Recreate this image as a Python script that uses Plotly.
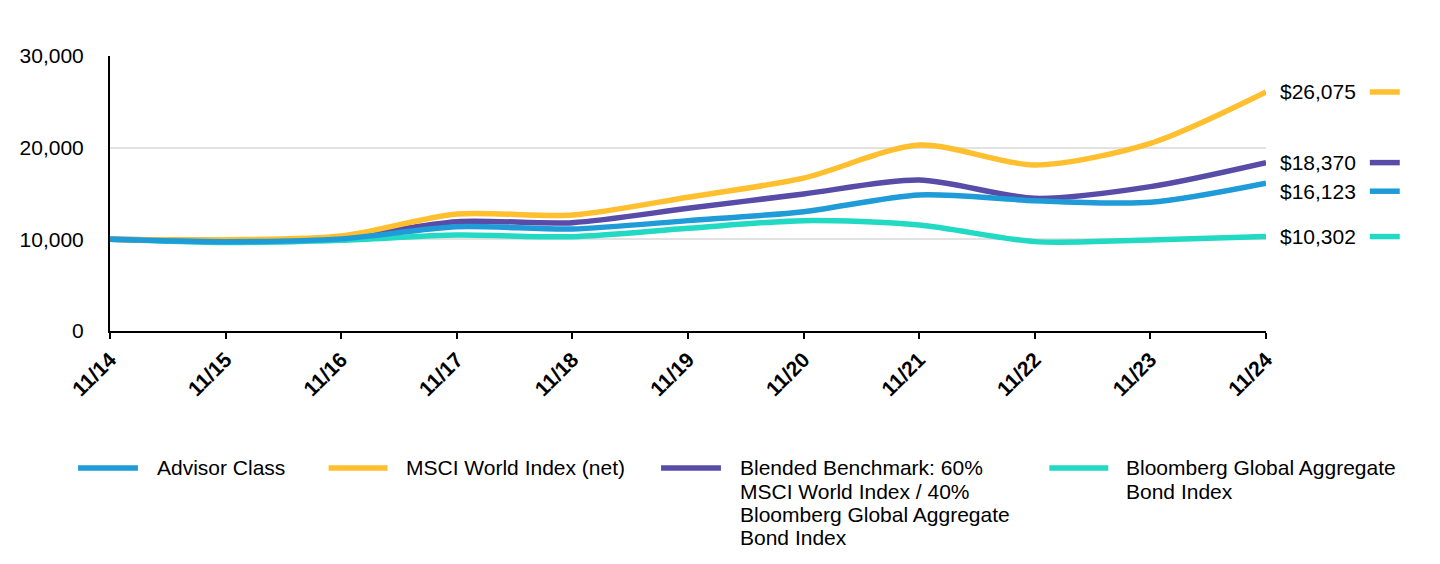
import plotly.graph_objects as go

years = ["11/14", "11/15", "11/16", "11/17", "11/18", "11/19", "11/20", "11/21", "11/22", "11/23", "11/24"]
advisor = [10000, 9750, 10050, 11380, 11130, 12040, 13020, 14840, 14220, 14040, 16123]
msci = [10000, 9950, 10360, 12760, 12650, 14600, 16680, 20290, 18110, 20470, 26075]
blended = [10000, 9880, 10200, 11930, 11820, 13380, 14950, 16470, 14470, 15750, 18370]
bloomberg = [10000, 9650, 9900, 10470, 10290, 11200, 12040, 11560, 9750, 9930, 10302]

names = [["Advisor Class"], ["MSCI World Index (net)"],
         ["Blended Benchmark: 60%", "MSCI World Index / 40%", "Bloomberg Global Aggregate", "Bond Index"],
         ["Bloomberg Global Aggregate", "Bond Index"]]
colors = ["#1F9BD7", "#FFBF2E", "#594BA8", "#22D9C3"]
series = [advisor, msci, blended, bloomberg]
end_labels = ["$16,123", "$26,075", "$18,370", "$10,302"]
label_nudge = [-8, 0, 0, 0]  # pixel shift to avoid overlapping end labels

FONT = "Liberation Sans, Arial, sans-serif"
FS = 21
x = list(range(len(years)))

fig = go.Figure()
for idx in [3, 2, 1, 0]:
    fig.add_trace(go.Scatter(x=x, y=series[idx], mode="lines", name=" ".join(names[idx]),
                             line=dict(color=colors[idx], width=5.5, shape="spline", smoothing=0.8),
                             showlegend=False, hoverinfo="skip"))

OFF = 8  # page body margin
W, H = 1440 - 2 * OFF, 564 - 2 * OFF
PL, PR, PT, PB = 108, 1266, 56, 331  # plot area in page pixels
L = PL - OFF
T = PT - OFF
R = W - (PR - OFF)
B = H - (PB - OFF)
PW = PR - PL
PH = PB - PT

def px(v):
    return (v - PL) / PW

def py(v):
    return (PB - v) / PH

shapes = []
annotations = []
# end labels
for idx in range(4):
    val = series[idx][-1]
    yv = val + label_nudge[idx] * 30000 / PH
    annotations.append(dict(x=px(1279), y=yv, xref="paper", yref="y", text=end_labels[idx],
                            showarrow=False, xanchor="left", yanchor="middle", borderpad=0,
                            font=dict(family=FONT, size=FS, color="#000000")))
    shapes.append(dict(type="line", xref="paper", yref="y", x0=px(1370), x1=px(1400),
                       y0=yv, y1=yv, line=dict(color=colors[idx], width=5.5)))

# legend
leg = [(76, 136, 154), (327, 386, 404), (660, 720, 738), (1049, 1108, 1125)]
for idx, (a, b, t) in enumerate(leg):
    shapes.append(dict(type="line", xref="paper", yref="paper", x0=px(a), x1=px(b),
                       y0=py(468), y1=py(468), line=dict(color=colors[idx], width=5.5)))
    for k, line in enumerate(names[idx]):
        annotations.append(dict(x=px(t), y=py(468 + 23 * k), xref="paper", yref="paper", text=line,
                                showarrow=False, xanchor="left", yanchor="middle", align="left",
                                borderpad=0,
                                font=dict(family=FONT, size=FS, color="#000000")))

fig.update_layout(
    width=W, height=H,
    margin=dict(l=L, r=R, t=T, b=B),
    paper_bgcolor="white", plot_bgcolor="white",
    showlegend=False,
    shapes=shapes, annotations=annotations,
    font=dict(family=FONT, size=FS, color="#000000"),
)
fig.update_xaxes(range=[0, 10], tickvals=x, ticktext=["<b>%s</b>" % y for y in years],
                 tickangle=-45, showgrid=False, zeroline=False,
                 showline=True, linecolor="#000000", linewidth=2,
                 ticks="outside", ticklen=6, tickwidth=2, tickcolor="#000000",
                 tickfont=dict(family=FONT, size=21, color="#000000"))
fig.update_yaxes(range=[0, 30000], tickvals=[0, 10000, 20000, 30000],
                 ticktext=["0", "10,000", "20,000", "30,000"],
                 showgrid=True, gridcolor="#E2E2E2", gridwidth=1.5, zeroline=False,
                 showline=True, linecolor="#000000", linewidth=2,
                 ticks="outside", ticklen=20, tickcolor="rgba(0,0,0,0)",
                 tickfont=dict(family=FONT, size=FS, color="#000000"))

fig.write_html("out.html")
